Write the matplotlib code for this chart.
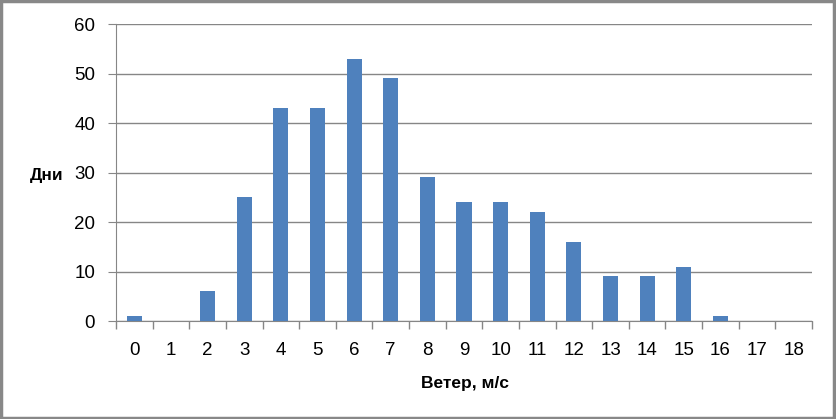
import matplotlib
matplotlib.use("Agg")
import matplotlib.pyplot as plt
from matplotlib.patches import Rectangle

wind = list(range(19))
days = [1, 0, 6, 25, 43, 43, 53, 49, 29, 24, 24, 22, 16, 9, 9, 11, 1, 0, 0]
yticks = [0, 10, 20, 30, 40, 50, 60]

plt.rcParams["font.family"] = ["Liberation Sans", "DejaVu Sans"]

fig = plt.figure(figsize=(8.36, 4.19), dpi=100)
ax = fig.add_axes([116 / 836, 1 - 321 / 419, (812 - 116) / 836, (321 - 24) / 419])

ax.bar(wind, days, width=0.41, color="#4F81BD", zorder=3)
ax.set_xlim(-0.5, 18.5)
ax.set_ylim(0, 60)
ax.set_yticks(yticks)
ax.set_xticks(wind)
ax.set_xticks([i - 0.5 for i in range(20)], minor=True)
ax.tick_params(axis="x", which="major", length=0, labelsize=13.5, pad=15)
ax.tick_params(axis="x", which="minor", length=6, color="#868686", width=1)
ax.tick_params(axis="y", length=6, color="#868686", labelsize=13.5, pad=9)
ax.grid(axis="y", color="#868686", linewidth=1, zorder=0)
for s in ["top", "right"]:
    ax.spines[s].set_visible(False)
for s in ["left", "bottom"]:
    ax.spines[s].set_color("#868686")

fig.text(47 / 836, 1 - 175 / 419, "Дни", fontsize=12.5, fontweight="bold",
         ha="center", va="center")
fig.text(465 / 836, 1 - 383 / 419, "Ветер, м/с", fontsize=12.5, fontweight="bold",
         ha="center", va="center")

fig.patches.append(Rectangle((0.0015, 0.003), 0.996, 0.994, transform=fig.transFigure,
                             fill=False, edgecolor="#888888", linewidth=2.5))

fig.savefig("out.png", dpi=100)
